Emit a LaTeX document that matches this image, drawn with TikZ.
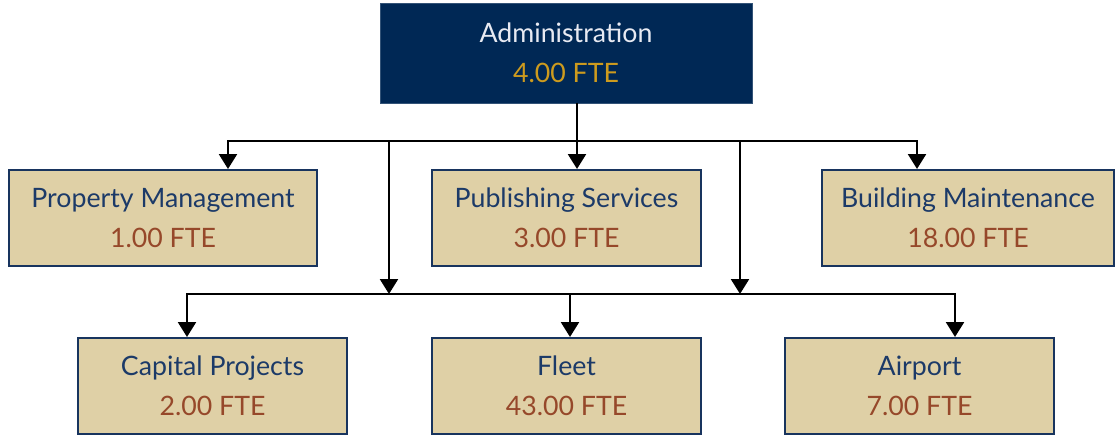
\documentclass[tikz,border=0pt]{standalone}
\usepackage{fontspec}
\setmainfont{Lato}
\usepackage{tikz}
\usetikzlibrary{calc,positioning,arrows.meta}
\definecolor{orgnavy}{RGB}{0,40,85}
\definecolor{orgtan}{RGB}{223,208,166}
\definecolor{orgedge}{RGB}{24,52,94}
\definecolor{orgname}{RGB}{28,58,104}
\definecolor{orgrust}{RGB}{150,72,42}
\definecolor{orggold}{RGB}{205,155,30}
\definecolor{orglight}{RGB}{232,234,242}
\newcommand{\fte}[1]{\textcolor{orgrust}{#1 FTE}}
\tikzset{
  every picture/.style={line join=miter},
  unit/.style={rectangle,draw=orgedge,fill=orgtan,line width=1.4pt,
    text=orgname,align=center,inner sep=0pt,minimum height=2.4cm,
    font=\fontsize{19pt}{28.5pt}\selectfont},
  headunit/.style={unit,draw=orgnavy!80,fill=orgnavy,line width=.6pt,
    text=orglight,minimum height=2.5cm,minimum width=9.3cm},
  wire/.style={line width=2pt,draw=black},
  feed/.style={wire,->}
}

\begin{document}
\begin{tikzpicture}[x=.025cm,y=-.025cm,>={Triangle[length=10.5pt,width=12.5pt]}]
  \useasboundingbox (0,0) rectangle (1115,435);

  % Head office and the two tiers of units.
  \node[headunit] (admin) at (566,53)
    {Administration\\{\color{orggold}4.00 FTE}};
  \node[unit,minimum width=7.7cm] (prop) at (163,218)
    {Property Management\\\fte{1.00}};
  \node[unit,minimum width=6.725cm] (pub) at (566.5,218)
    {Publishing Services\\\fte{3.00}};
  \node[unit,minimum width=7.3cm] (bldg) at (968,218)
    {Building Maintenance\\\fte{18.00}};
  \node[unit,minimum width=6.725cm] (cap) at (212.5,386)
    {Capital Projects\\\fte{2.00}};
  \node[unit,minimum width=6.725cm] (fleet) at (566.5,386)
    {Fleet\\\fte{43.00}};
  \node[unit,minimum width=6.725cm] (air) at (919.5,386)
    {Airport\\\fte{7.00}};

  % Upper bus.
  \coordinate (busA) at (577,141);
  \coordinate (busAL) at (228,141);
  \coordinate (busAR) at (917,141);
  \draw[wire] (admin.south -| busA) -- (busA);
  \draw[feed] (busA) -- (busAL) -- (busAL |- prop.north);
  \draw[feed] (busA) -- (busAR) -- (busAR |- bldg.north);
  \draw[feed] (busA) -- (busA |- pub.north);

  % Lower bus, fed from the upper one.
  \coordinate (linkL) at (389,141);
  \coordinate (linkR) at (740,141);
  \coordinate (busB) at (570,294);
  \coordinate (busBL) at (187,294);
  \coordinate (busBR) at (955,294);
  \draw[feed] (linkL) -- (linkL |- busB);
  \draw[feed] (linkR) -- (linkR |- busB);
  \draw[feed] (busB) -- (busBL) -- (busBL |- cap.north);
  \draw[feed] (busB) -- (busBR) -- (busBR |- air.north);
  \draw[feed] (busB) -- (busB |- fleet.north);
\end{tikzpicture}
\end{document}
